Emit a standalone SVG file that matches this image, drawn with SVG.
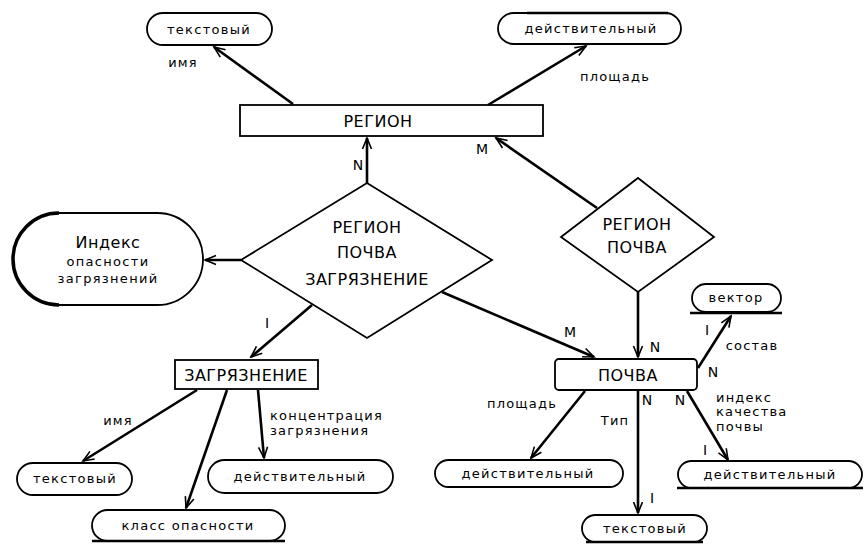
<svg xmlns="http://www.w3.org/2000/svg" width="866" height="544" viewBox="0 0 866 544">
<style>
.sh{fill:#fff;stroke:#000;stroke-width:1.8}
.cap{font-family:"DejaVu Sans",sans-serif;font-size:16px;letter-spacing:0.5px;text-anchor:middle;fill:#000}
.pl{font-family:"DejaVu Sans",sans-serif;font-size:13px;letter-spacing:1.3px;text-anchor:middle;fill:#000}
.lb{font-family:"DejaVu Sans",sans-serif;font-size:13px;letter-spacing:1.2px;fill:#000}
.ml{font-family:"DejaVu Sans",sans-serif;font-size:14px;fill:#000}
.c line{stroke:#000;stroke-width:2.6;marker-end:url(#a)}
.ul{stroke:#000;stroke-width:2.5}
</style>
<defs>
<marker id="a" markerWidth="14" markerHeight="12" refX="12" refY="6" orient="auto" markerUnits="userSpaceOnUse">
<path d="M1,1.5 L12,6 L1,10.5" fill="none" stroke="#000" stroke-width="1.6"/>
</marker>
</defs>

<g id="connectors" class="c">
<line x1="293" y1="104" x2="214" y2="47"/>
<line x1="488" y1="105" x2="586" y2="46"/>
<line x1="367" y1="183" x2="367" y2="138"/>
<line x1="597" y1="208" x2="496" y2="138"/>
<line x1="241" y1="260" x2="205" y2="260"/>
<line x1="312" y1="305" x2="251" y2="357"/>
<line x1="442" y1="292" x2="594" y2="357"/>
<line x1="638" y1="292" x2="638" y2="357"/>
<line x1="197" y1="390" x2="83" y2="461"/>
<line x1="227" y1="390" x2="186" y2="508"/>
<line x1="258" y1="390" x2="264" y2="458"/>
<line x1="585" y1="391" x2="531" y2="458"/>
<line x1="638" y1="391" x2="638" y2="513"/>
<line x1="687" y1="391" x2="728" y2="460"/>
<line x1="698" y1="368" x2="731" y2="316"/>
</g>

<g id="region">
<rect class="sh" x="240" y="105" width="303" height="31"/>
<text class="cap" x="378" y="127">РЕГИОН</text>
</g>

<g id="txt-top">
<rect class="sh" x="147" y="13" width="125" height="32" rx="16"/>
<text class="pl" x="209" y="34">текстовый</text>
</g>

<g id="real-top">
<rect class="sh" x="498" y="13" width="183" height="31" rx="15.5"/>
<line class="ul" x1="527" y1="13" x2="668" y2="13"/>
<text class="pl" x="591" y="33">действительный</text>
</g>

<g id="rel-big">
<polygon class="sh" points="367,183 492,260 367,338 241,260"/>
<text class="cap" x="367" y="233">РЕГИОН</text>
<text class="cap" x="367" y="258">ПОЧВА</text>
<text class="cap" x="367" y="285">ЗАГРЯЗНЕНИЕ</text>
</g>

<g id="rel-small">
<polygon class="sh" points="638,178 714,237 638,292 561,237"/>
<text class="cap" x="637" y="230">РЕГИОН</text>
<text class="cap" x="637" y="253">ПОЧВА</text>
</g>

<g id="index">
<rect class="sh" x="13" y="213" width="190" height="92" rx="46" stroke-width="2.2"/>
<path d="M59,213 A46,46 0 0 0 59,305" fill="none" stroke="#000" stroke-width="3.5"/>
<text class="cap" x="108" y="248" font-size="17">Индекс</text>
<text class="pl" x="108" y="266" font-size="14">опасности</text>
<text class="pl" x="108" y="283" font-size="14">загрязнений</text>
</g>

<g id="pollution">
<rect class="sh" x="175" y="360" width="143" height="29"/>
<text class="cap" x="246" y="381">ЗАГРЯЗНЕНИЕ</text>
</g>

<g id="soil">
<rect class="sh" x="555" y="359" width="142" height="31" rx="4"/>
<text class="cap" x="628" y="381">ПОЧВА</text>
</g>

<g id="vector">
<rect class="sh" x="692" y="284" width="89" height="28" rx="14"/>
<line class="ul" x1="690" y1="313" x2="782" y2="313"/>
<text class="pl" x="736" y="302">вектор</text>
</g>

<g id="txt-left">
<rect class="sh" x="17" y="463" width="115" height="32" rx="16"/>
<text class="pl" x="75" y="483">текстовый</text>
</g>

<g id="real-mid-left">
<rect class="sh" x="208" y="460" width="185" height="33" rx="16.5"/>
<text class="pl" x="300" y="481">действительный</text>
</g>

<g id="class">
<rect class="sh" x="92" y="510" width="193" height="31" rx="15.5"/>
<line class="ul" x1="92" y1="541" x2="285" y2="541"/>
<text class="pl" x="188" y="530">класс опасности</text>
</g>

<g id="real-mid-right">
<rect class="sh" x="435" y="460" width="188" height="27" rx="13.5"/>
<text class="pl" x="528" y="478">действительный</text>
</g>

<g id="txt-bottom">
<rect class="sh" x="582" y="515" width="125" height="27" rx="13.5"/>
<line class="ul" x1="586" y1="542" x2="703" y2="542"/>
<text class="pl" x="645" y="533">текстовый</text>
</g>

<g id="real-right">
<rect class="sh" x="678" y="461" width="184" height="27" rx="13.5"/>
<line class="ul" x1="677" y1="488" x2="863" y2="488"/>
<text class="pl" x="770" y="479">действительный</text>
</g>

<g id="labels">
<text class="lb" x="183" y="67" text-anchor="middle">имя</text>
<text class="lb" x="615" y="81" text-anchor="middle">площадь</text>
<text class="ml" x="358" y="170" text-anchor="middle">N</text>
<text class="ml" x="482" y="154" text-anchor="middle">M</text>
<text class="ml" x="267" y="328" text-anchor="middle">I</text>
<text class="ml" x="570" y="337" text-anchor="middle">M</text>
<text class="ml" x="655" y="352" text-anchor="middle">N</text>
<text class="ml" x="707" y="335" text-anchor="middle">I</text>
<text class="lb" x="752" y="350" text-anchor="middle">состав</text>
<text class="ml" x="713" y="377" text-anchor="middle">N</text>
<text class="lb" x="118" y="425" text-anchor="middle">имя</text>
<text class="lb" x="270" y="420">концентрация</text>
<text class="lb" x="270" y="435">загрязнения</text>
<text class="lb" x="522" y="408" text-anchor="middle">площадь</text>
<text class="ml" x="647" y="405" text-anchor="middle">N</text>
<text class="ml" x="680" y="405" text-anchor="middle">N</text>
<text class="lb" x="615" y="425" text-anchor="middle">Тип</text>
<text class="lb" x="716" y="402">индекс</text>
<text class="lb" x="716" y="416">качества</text>
<text class="lb" x="716" y="431">почвы</text>
<text class="ml" x="705" y="455" text-anchor="middle">I</text>
<text class="ml" x="652" y="503" text-anchor="middle">I</text>
</g>
</svg>
